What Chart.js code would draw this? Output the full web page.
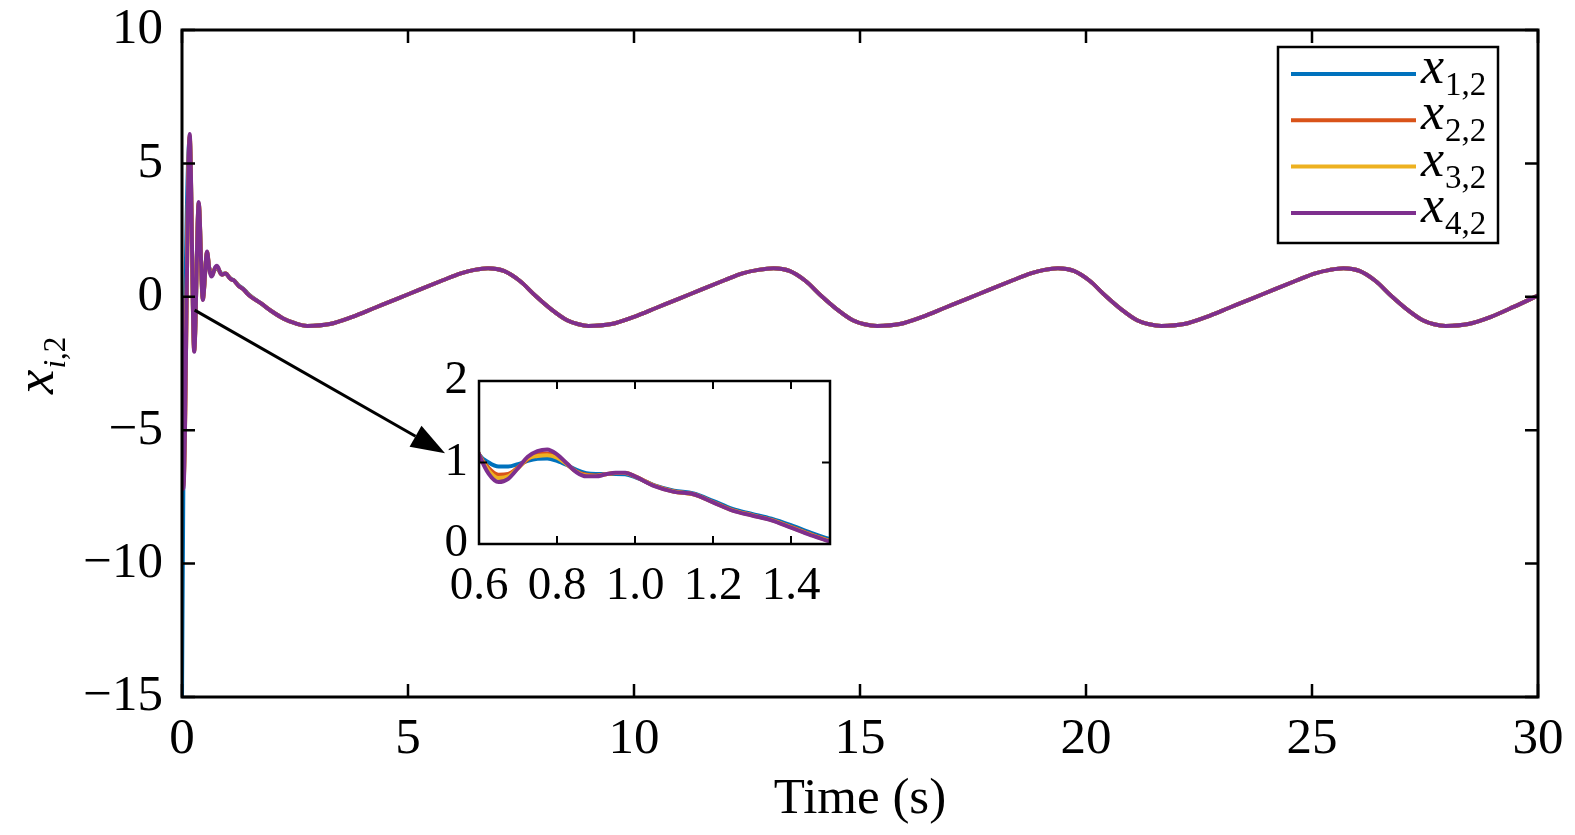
<!DOCTYPE html>
<html><head><meta charset="utf-8">
<script src="https://cdn.jsdelivr.net/npm/chart.js@4.4.1/dist/chart.umd.min.js"></script>
<style>
html,body{margin:0;padding:0;background:#fff;}
#wrap{position:relative;width:1575px;height:835px;overflow:hidden;}
#main{position:absolute;left:0;top:0;width:1575px;height:835px;}
#inset{position:absolute;left:400px;top:340px;width:460px;height:290px;}
</style></head><body>
<div id="wrap">
<canvas id="main" width="1575" height="835"></canvas>
<canvas id="inset" width="460" height="290"></canvas>
</div>
<script>
// ---- data ----
const seriesNames = ['x12', 'x22', 'x32', 'x42'];
const legendSubs = ['1,2', '2,2', '3,2', '4,2'];
const seriesColors = ['#0072BD', '#D95319', '#EDB120', '#7E2F8E'];

const xTicks = [0, 5, 10, 15, 20, 25, 30];
const yTicks = [-15, -10, -5, 0, 5, 10];
const insetXTicks = [0.6, 0.8, 1.0, 1.2, 1.4];
const insetYTicks = [0, 1, 2];

// transient part (individual agents)
const tEarly = [0, 0.03, 0.17, 0.27, 0.37, 0.46, 0.555, 0.60, 0.625, 0.65, 0.675, 0.70, 0.725, 0.75, 0.775, 0.80, 0.825, 0.85, 0.875, 0.90, 0.925, 0.95, 0.975, 1.0, 1.05, 1.10, 1.15, 1.20, 1.25, 1.30, 1.35, 1.40, 1.45, 1.50];
const x12Early = [-15, -7.0, 5.9, -1.9, 3.4, 0.0, 1.62, 1.10, 1.0, 0.95, 0.95, 0.98, 1.02, 1.045, 1.05, 1.02, 0.97, 0.91, 0.87, 0.86, 0.86, 0.86, 0.855, 0.82, 0.72, 0.655, 0.62, 0.53, 0.43, 0.37, 0.31, 0.23, 0.14, 0.06];
const x22Early = [-6.2, -7.0, 6.0, -2.0, 3.5, -0.08, 1.67, 1.10, 0.93, 0.85, 0.86, 0.94, 1.04, 1.10, 1.11, 1.07, 0.98, 0.89, 0.85, 0.84, 0.855, 0.87, 0.87, 0.83, 0.715, 0.645, 0.61, 0.515, 0.415, 0.355, 0.295, 0.21, 0.12, 0.04];
const x32Early = [-6.6, -7.1, 6.05, -2.03, 3.52, -0.1, 1.68, 1.10, 0.90, 0.81, 0.83, 0.93, 1.05, 1.08, 1.09, 1.06, 0.98, 0.885, 0.84, 0.835, 0.855, 0.87, 0.87, 0.83, 0.712, 0.642, 0.61, 0.512, 0.412, 0.352, 0.292, 0.205, 0.115, 0.035];
const x42Early = [0, -7.2, 6.1, -2.06, 3.55, -0.12, 1.70, 1.10, 0.86, 0.76, 0.80, 0.93, 1.07, 1.14, 1.16, 1.10, 0.99, 0.88, 0.83, 0.83, 0.855, 0.875, 0.875, 0.83, 0.71, 0.64, 0.61, 0.51, 0.41, 0.35, 0.29, 0.20, 0.11, 0.03];

// consensus part (all agents coincide)
const tLate = [1.75, 2.0, 2.25, 2.5, 2.77, 3.27, 3.77, 4.27, 4.77, 5.27, 5.77, 6.17, 6.47, 6.77, 7.12, 7.47, 7.82, 8.17, 8.52, 8.77,
  8.99, 9.5, 10.0, 10.5, 11.0, 11.5, 12.0, 12.4, 12.75, 13.09, 13.44, 13.79, 14.14, 14.49, 14.84, 15.1,
  15.38, 15.88, 16.38, 16.88, 17.38, 17.88, 18.38, 18.78, 19.08, 19.38, 19.73, 20.08, 20.43, 20.78, 21.13, 21.4,
  21.67, 22.17, 22.67, 23.17, 23.67, 24.17, 24.67, 25.07, 25.4, 25.70, 26.05, 26.4, 26.75, 27.1, 27.45, 27.7,
  27.96, 28.46, 28.96, 29.46, 30.0];
const xLate = [-0.25, -0.56, -0.82, -0.99, -1.09, -1.02, -0.75, -0.41, -0.07, 0.28, 0.62, 0.88, 1.01, 1.07, 0.97, 0.60, 0.04, -0.47, -0.88, -1.03,
  -1.09, -1.02, -0.75, -0.41, -0.07, 0.28, 0.62, 0.88, 1.01, 1.07, 0.97, 0.60, 0.04, -0.47, -0.88, -1.03,
  -1.09, -1.02, -0.75, -0.41, -0.07, 0.28, 0.62, 0.88, 1.01, 1.07, 0.97, 0.60, 0.04, -0.47, -0.88, -1.03,
  -1.09, -1.02, -0.75, -0.41, -0.07, 0.28, 0.62, 0.88, 1.01, 1.07, 0.97, 0.60, 0.04, -0.47, -0.88, -1.03,
  -1.09, -1.02, -0.75, -0.38, 0.05];

// arrow from the main curve to the inset (data coordinates)
const arrowFrom = [0.28, -0.5];
const arrowTo = [5.82, -5.86];

const earlyValues = [x12Early, x22Early, x32Early, x42Early];
const FONT = '"Liberation Serif","Times New Roman",Times,serif';

function buildDatasets(width) {
  return seriesNames.map((name, i) => {
    const pts = tEarly.map((t, k) => ({x: t, y: earlyValues[i][k]}))
      .concat(tLate.map((t, k) => ({x: t, y: xLate[k]})));
    return {
      label: name, data: pts, borderColor: seriesColors[i], backgroundColor: seriesColors[i],
      borderWidth: width, pointRadius: 0, fill: false, cubicInterpolationMode: 'monotone',
      order: 4 - i
    };
  });
}
const minusFmt = v => String(v).replace('-', '\u2212');

function drawBoxTicks(chart, xt, yt, len, lw, blw) {
  const {ctx, chartArea: a, scales: {x, y}} = chart;
  ctx.save();
  ctx.strokeStyle = '#000';
  ctx.lineWidth = lw;
  ctx.beginPath();
  xt.forEach(v => { const p = x.getPixelForValue(v);
    ctx.moveTo(p, a.bottom); ctx.lineTo(p, a.bottom - len);
    ctx.moveTo(p, a.top); ctx.lineTo(p, a.top + len); });
  yt.forEach(v => { const p = y.getPixelForValue(v);
    ctx.moveTo(a.left, p); ctx.lineTo(a.left + len, p);
    ctx.moveTo(a.right, p); ctx.lineTo(a.right - len, p); });
  ctx.stroke();
  ctx.lineWidth = blw;
  ctx.strokeRect(a.left, a.top, a.right - a.left, a.bottom - a.top);
  ctx.restore();
}

const mainDecor = {
  id: 'mainDecor',
  afterDatasetsDraw(chart) {
    const {ctx, chartArea: a, scales: {x, y}} = chart;
    drawBoxTicks(chart, xTicks, yTicks, 13, 2.5, 3);
    ctx.save();
    // arrow
    const x0 = x.getPixelForValue(arrowFrom[0]), y0 = y.getPixelForValue(arrowFrom[1]);
    const x1 = x.getPixelForValue(arrowTo[0]), y1 = y.getPixelForValue(arrowTo[1]);
    const ang = Math.atan2(y1 - y0, x1 - x0);
    const hl = 34, hw = 12;
    const bx = x1 - hl * Math.cos(ang), by = y1 - hl * Math.sin(ang);
    ctx.strokeStyle = '#000'; ctx.fillStyle = '#000'; ctx.lineWidth = 3;
    ctx.beginPath(); ctx.moveTo(x0, y0); ctx.lineTo(bx, by); ctx.stroke();
    ctx.beginPath();
    ctx.moveTo(x1, y1);
    ctx.lineTo(bx + hw * Math.sin(ang), by - hw * Math.cos(ang));
    ctx.lineTo(bx - hw * Math.sin(ang), by + hw * Math.cos(ang));
    ctx.closePath(); ctx.fill();

    // legend
    const lx = 1278, ly = 47, lw = 220, lh = 196;
    ctx.fillStyle = '#fff'; ctx.fillRect(lx, ly, lw, lh);
    ctx.lineWidth = 2.5; ctx.strokeStyle = '#000'; ctx.strokeRect(lx, ly, lw, lh);
    chart.data.datasets.forEach((ds, i) => {
      const yy = 74 + i * 46.3;
      ctx.strokeStyle = ds.borderColor; ctx.lineWidth = 4;
      ctx.beginPath(); ctx.moveTo(1291, yy); ctx.lineTo(1416, yy); ctx.stroke();
      ctx.fillStyle = '#000'; ctx.textAlign = 'left'; ctx.textBaseline = 'alphabetic';
      ctx.font = 'italic 52px ' + FONT;
      ctx.fillText('x', 1421, yy + 9);
      const w = ctx.measureText('x').width;
      ctx.font = '33px ' + FONT;
      ctx.fillText(legendSubs[i], 1421 + w + 1, yy + 21);
    });

    // x axis title
    ctx.fillStyle = '#000'; ctx.textAlign = 'center'; ctx.textBaseline = 'alphabetic';
    ctx.font = '51px ' + FONT;
    ctx.fillText('Time (s)', (a.left + a.right) / 2, 813);

    // y axis title (rotated)
    ctx.translate(53, 394);
    ctx.rotate(-Math.PI / 2);
    ctx.textAlign = 'left';
    ctx.font = 'italic 55px ' + FONT;
    ctx.fillText('x', 0, 0);
    let w = ctx.measureText('x').width + 1;
    ctx.font = 'italic 31px ' + FONT;
    ctx.fillText('i', w, 12);
    w += ctx.measureText('i').width;
    ctx.font = '31px ' + FONT;
    ctx.fillText(',2', w, 12);
    ctx.restore();
  }
};

const insetDecor = {
  id: 'insetDecor',
  beforeDatasetsDraw(chart) {
    const {ctx, chartArea: a} = chart;
    ctx.save(); ctx.fillStyle = '#fff';
    ctx.fillRect(a.left, a.top, a.right - a.left, a.bottom - a.top);
    ctx.restore();
  },
  afterDatasetsDraw(chart) {
    drawBoxTicks(chart, insetXTicks, insetYTicks, 8, 2, 2.5);
  }
};

function fixX(h) { return s => { s.height = h; s.paddingLeft = 0; s.paddingRight = 0; s.paddingTop = 0; s.paddingBottom = 0; }; }
function fixY(w) { return s => { s.width = w; s.paddingLeft = 0; s.paddingRight = 0; s.paddingTop = 0; s.paddingBottom = 0; }; }

new Chart(document.getElementById('main'), {
  type: 'line',
  data: {datasets: buildDatasets(4)},
  options: {
    responsive: false, animation: false, devicePixelRatio: 1,
    layout: {padding: {left: 0, top: 30, right: 37, bottom: 0}},
    plugins: {legend: {display: false}, tooltip: {enabled: false}},
    scales: {
      x: {type: 'linear', min: 0, max: 30,
        afterBuildTicks: s => { s.ticks = xTicks.map(v => ({value: v})); },
        afterFit: fixX(138),
        grid: {display: false, drawTicks: false}, border: {display: false},
        ticks: {font: {family: FONT, size: 51}, color: '#000', padding: 12, maxRotation: 0, autoSkip: false}},
      y: {type: 'linear', min: -15, max: 10,
        afterBuildTicks: s => { s.ticks = yTicks.map(v => ({value: v})); },
        afterFit: fixY(182),
        grid: {display: false, drawTicks: false}, border: {display: false},
        ticks: {font: {family: FONT, size: 51}, color: '#000', padding: 19, autoSkip: false, callback: minusFmt}}
    }
  },
  plugins: [mainDecor]
});

new Chart(document.getElementById('inset'), {
  type: 'line',
  data: {datasets: buildDatasets(4)},
  options: {
    responsive: false, animation: false, devicePixelRatio: 1,
    layout: {padding: {left: 0, top: 41, right: 30, bottom: 0}},
    plugins: {legend: {display: false}, tooltip: {enabled: false}},
    scales: {
      x: {type: 'linear', min: 0.6, max: 1.5,
        afterBuildTicks: s => { s.ticks = insetXTicks.map(v => ({value: v})); },
        afterFit: fixX(86),
        grid: {display: false, drawTicks: false}, border: {display: false},
        ticks: {font: {family: FONT, size: 47}, color: '#000', padding: 14, maxRotation: 0, autoSkip: false,
          callback: v => Number(v).toFixed(1)}},
      y: {type: 'linear', min: 0, max: 2,
        afterBuildTicks: s => { s.ticks = insetYTicks.map(v => ({value: v})); },
        afterFit: fixY(79),
        grid: {display: false, drawTicks: false}, border: {display: false},
        ticks: {font: {family: FONT, size: 47}, color: '#000', padding: 11, autoSkip: false}}
    }
  },
  plugins: [insetDecor]
});
</script>
</body></html>
